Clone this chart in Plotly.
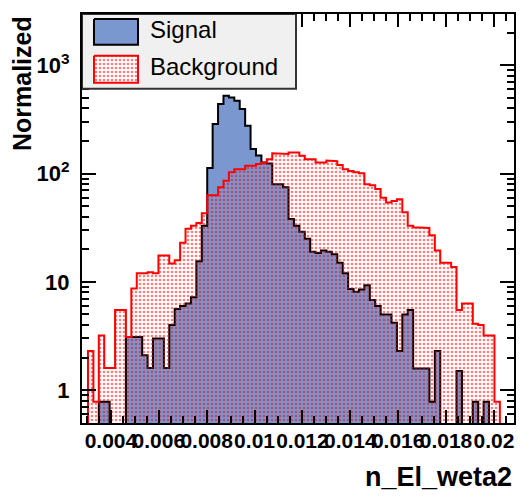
import plotly.graph_objects as go

# ---------------- data ----------------
HIST_LOW = 0.00304
HIST_HIGH = 0.02025

signal = [0, 0, 0.78, 0.78, 0, 0, 0, 3.1, 3.1, 3.1,
          2.1, 1.6, 3.0, 3.0, 1.6, 4.0, 5.6, 6.0, 6.3, 7.2,
          15.5, 33, 113, 287, 439, 524, 505, 471, 395, 277,
          169, 147, 127, 124, 80, 80, 75, 38, 33, 29,
          25, 19, 18.5, 19.5, 19, 18, 15, 12, 8.6, 8.1,
          8.5, 9.3, 6.8, 6.0, 5.0, 5.0, 4.2, 2.3, 5.0, 5.5,
          1.58, 1.58, 1.58, 0.78, 2.3, 0, 0, 0, 1.5, 0,
          0, 0.78, 0, 0.78, 0, 0]

background = [2.3, 0.78, 3.2, 1.6, 1.6, 5.5, 5.5, 3.1, 8.7, 12,
              12, 12.3, 12, 17.5, 17.5, 14.8, 15.8, 23, 31, 33,
              35, 43, 63, 63, 75, 86, 103, 110, 110, 118,
              118, 123, 127, 136, 154, 152, 152, 157, 157, 146,
              136, 136, 127, 127, 132, 130, 120, 110, 106, 103,
              101, 80, 78, 72, 60, 54, 56, 58, 44, 33,
              32, 32, 31.5, 27, 19.5, 15, 15, 13.7, 5.5, 6.3,
              6.3, 4.1, 4.0, 3.2, 3.2, 0.78]

x_tick_vals = [0.004, 0.006, 0.008, 0.010, 0.012, 0.014, 0.016, 0.018, 0.020]
x_tick_text = ["0.004", "0.006", "0.008", "0.01", "0.012", "0.014", "0.016", "0.018", "0.02"]
y_tick_vals = [1, 10, 100, 1000]
y_tick_text = ["1", "10", "10<sup>2</sup>", "10<sup>3</sup>"]
legend_labels = ["Signal", "Background"]

# ---------------- helpers ----------------
FLOOR = 1e-3


def step_polygon(vals, lo, hi):
    n = len(vals)
    w = (hi - lo) / n
    xs, ys = [lo], [FLOOR]
    for i, v in enumerate(vals):
        v = v if v > 0 else FLOOR
        xs += [lo + i * w, lo + (i + 1) * w]
        ys += [v, v]
    xs.append(hi)
    ys.append(FLOOR)
    return xs, ys


BLUE = "#7a97cf"
FONT = "Liberation Sans"

fig = go.Figure()

sx, sy = step_polygon(signal, HIST_LOW, HIST_HIGH)
fig.add_trace(go.Scatter(x=sx, y=sy, mode="lines", fill="toself",
                         fillcolor=BLUE, line=dict(color="black", width=2),
                         hoverinfo="skip", showlegend=False))

bx, by = step_polygon(background, HIST_LOW, HIST_HIGH)
fig.add_trace(go.Scatter(x=bx, y=by, mode="lines", fill="toself",
                         fillcolor="rgba(0,0,0,0)",
                         fillpattern=dict(shape=".", fgcolor="red", bgcolor="rgba(0,0,0,0)",
                                          size=4, solidity=0.35),
                         line=dict(color="red", width=2),
                         hoverinfo="skip", showlegend=False))

# ---------------- manual legend on an overlay pixel-space subplot ----------------
L, R, T, B = 82, 514, 12, 423


def rect(x0, y0, x1, y1):
    return [x0, x1, x1, x0, x0], [y0, y0, y1, y1, y0]


lx, ly = rect(82, 12, 296, 87)
fig.add_trace(go.Scatter(x=lx, y=ly, xaxis="x2", yaxis="y2", mode="lines", fill="toself",
                         fillcolor="#f0f0f0", line=dict(color="#333333", width=2),
                         hoverinfo="skip", showlegend=False))
s1x, s1y = rect(94, 17, 138, 43)
fig.add_trace(go.Scatter(x=s1x, y=s1y, xaxis="x2", yaxis="y2", mode="lines", fill="toself",
                         fillcolor=BLUE, line=dict(color="black", width=2),
                         hoverinfo="skip", showlegend=False))
s2x, s2y = rect(94, 54, 138, 81)
fig.add_trace(go.Scatter(x=s2x, y=s2y, xaxis="x2", yaxis="y2", mode="lines", fill="toself",
                         fillcolor="white",
                         fillpattern=dict(shape=".", fgcolor="red", bgcolor="white",
                                          size=4, solidity=0.35),
                         line=dict(color="red", width=2),
                         hoverinfo="skip", showlegend=False))

annotations = [
    dict(x=148, y=28, xref="x2", yref="y2", text=legend_labels[0], showarrow=False,
         xanchor="left", yanchor="middle", font=dict(family=FONT, size=24, color="black")),
    dict(x=148, y=65, xref="x2", yref="y2", text=legend_labels[1], showarrow=False,
         xanchor="left", yanchor="middle", font=dict(family=FONT, size=24, color="black")),
    dict(x=1.0, y=-0.132, xref="paper", yref="paper", text="n_El_weta2", showarrow=False,
         xanchor="right", yanchor="middle",
         font=dict(family=FONT, size=27, color="black", weight="bold")),
    dict(x=-0.14, y=1.0, xref="paper", yref="paper", text="Normalized", showarrow=False,
         textangle=-90, xanchor="center", yanchor="top",
         font=dict(family=FONT, size=25, color="black", weight="bold")),
]

minor_y = [m * 10 ** e for e in range(-1, 4) for m in range(2, 10)]

fig.update_layout(
    width=529, height=500,
    margin=dict(l=L, r=529 - R, t=T, b=500 - B),
    paper_bgcolor="white", plot_bgcolor="rgba(0,0,0,0)",
    showlegend=False,
    annotations=annotations,
    xaxis=dict(range=[0.00279, 0.02084], showgrid=False, zeroline=False,
               showline=True, linecolor="black", linewidth=2, mirror="ticks",
               ticks="inside", ticklen=13, tickwidth=1.5, tickcolor="black",
               tickvals=x_tick_vals, ticktext=x_tick_text, tickangle=0,
               ticklabelstandoff=-2,
               tickfont=dict(family=FONT, size=21, color="black", weight="bold"),
               minor=dict(ticks="inside", ticklen=7, tickwidth=1.5, tickcolor="black",
                          dtick=0.0005, tick0=0, showgrid=False)),
    yaxis=dict(type="log", range=[-0.304, 3.475], showgrid=False, zeroline=False,
               showline=True, linecolor="black", linewidth=2, mirror="ticks",
               ticks="inside", ticklen=14, tickwidth=1.5, tickcolor="black",
               tickvals=y_tick_vals, ticktext=y_tick_text, ticklabelstandoff=6,
               tickfont=dict(family=FONT, size=22, color="black", weight="bold"),
               minor=dict(ticks="inside", ticklen=7, tickwidth=1.5, tickcolor="black",
                          tickvals=minor_y, showgrid=False)),
    xaxis2=dict(domain=[0, 1], range=[L, R], visible=False, anchor="y2"),
    yaxis2=dict(domain=[0, 1], range=[B, T], visible=False, anchor="x2"),
)

fig.write_html("out.html", config={"displayModeBar": False},
               post_script="document.body.style.margin='0';document.body.style.padding='0';")
